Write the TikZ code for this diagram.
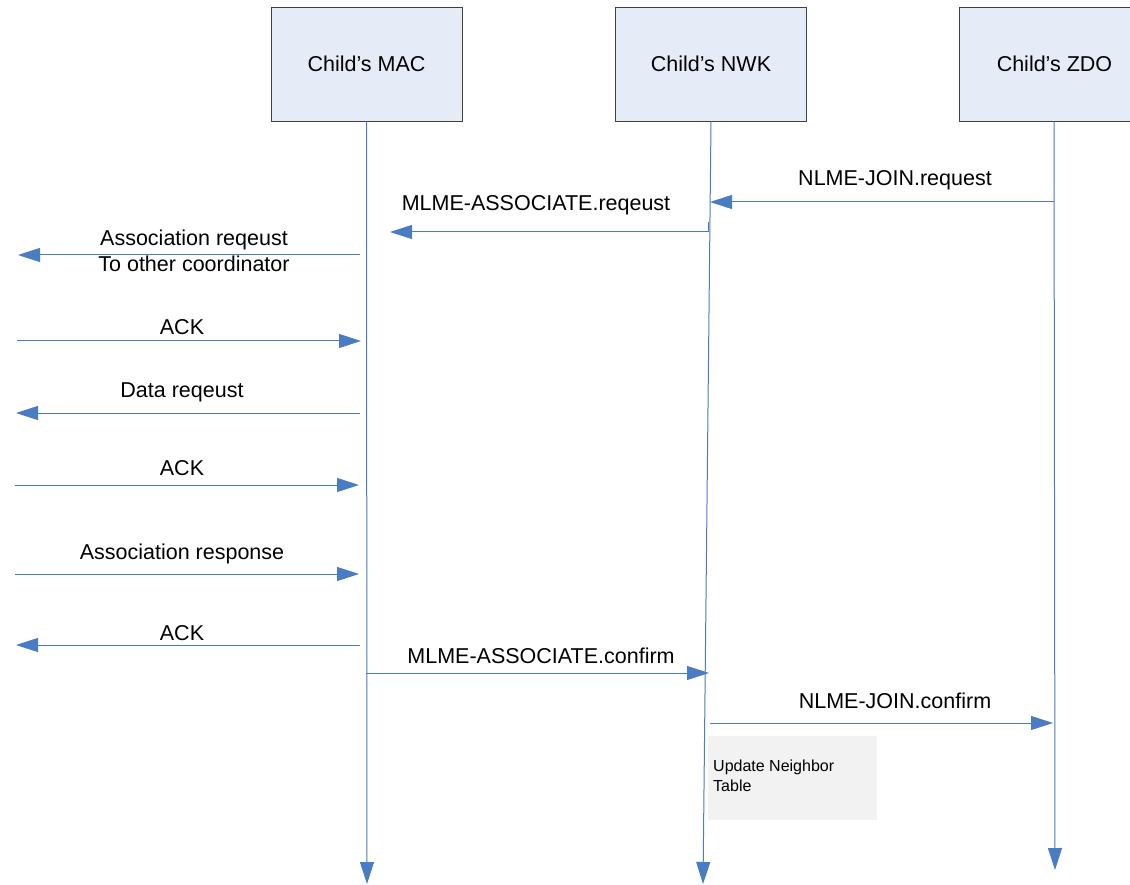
\documentclass[tikz,border=0pt]{standalone}
\usepackage{fontspec}
\setmainfont{Liberation Sans}
\usetikzlibrary{arrows.meta}
\definecolor{lineblue}{HTML}{4A7CC4}
\definecolor{boxfill}{HTML}{E6ECF7}
\definecolor{noteFill}{HTML}{F2F2F2}
\tikzset{
  lifebox/.style={draw=black!75, fill=boxfill, line width=0.8pt, minimum width=191pt, minimum height=114pt, inner sep=0pt, font=\fontsize{21.5}{25}\selectfont},
  msg/.style={draw=lineblue, line width=1pt, -{Triangle[length=22pt,width=14pt]}},
  life/.style={draw=lineblue, line width=1pt, -{Triangle[length=22pt,width=14pt]}},
  lbl/.style={font=\fontsize{21.5}{26}\selectfont, inner sep=0pt, align=center},
  notebox/.style={fill=noteFill, minimum width=169pt, minimum height=84pt, inner sep=0pt},
}
\begin{document}
\begin{tikzpicture}[x=1pt,y=-1pt]
\useasboundingbox (0,0) rectangle (1130,885);
\begin{scope}
\clip (0,0) rectangle (1130,885);
% header boxes
\node[lifebox] (mac) at (366.5,64) {Child’s MAC};
\node[lifebox] (nwk) at (711,64) {Child’s NWK};
\node[lifebox] (zdo) at (1054.5,64) {Child’s ZDO};
\end{scope}
% lifeline ends
\coordinate (macend) at (367,884);
\coordinate (nwkend) at (703,884);
\coordinate (zdoend) at (1055,870);
\draw[life] (mac.south) -- (macend);
\draw[life] (nwk.south) -- (nwkend);
\draw[life] (zdo.south -| 1054,0) -- (zdoend);
% message end points
\coordinate (a1s) at (1054,202); \coordinate (a1e) at (710,202);
\coordinate (a2s) at (708,232); \coordinate (a2e) at (390,232);
\coordinate (a3s) at (360,255); \coordinate (a3e) at (18,255);
\coordinate (a4s) at (17,341);  \coordinate (a4e) at (361,341);
\coordinate (a5s) at (360,413); \coordinate (a5e) at (16,413);
\coordinate (a6s) at (15,485);  \coordinate (a6e) at (359,485);
\coordinate (a7s) at (15,574);  \coordinate (a7e) at (359,574);
\coordinate (a8s) at (360,645); \coordinate (a8e) at (16,645);
\coordinate (a9s) at (366,673); \coordinate (a9e) at (709,673);
\coordinate (a10s) at (710,723); \coordinate (a10e) at (1053,723);
\draw[draw=lineblue, line width=1pt] (708,222) -- (a2s);
\draw[msg] (a1s) -- (a1e);
\draw[msg] (a2s) -- (a2e);
\draw[msg] (a3s) -- (a3e);
\draw[msg] (a4s) -- (a4e);
\draw[msg] (a5s) -- (a5e);
\draw[msg] (a6s) -- (a6e);
\draw[msg] (a7s) -- (a7e);
\draw[msg] (a8s) -- (a8e);
\draw[msg] (a9s) -- (a9e);
\draw[msg] (a10s) -- (a10e);
% labels
\node[lbl] (l1) at (895,180) {NLME-JOIN.request};
\node[lbl] (l2) at (536,205) {MLME-ASSOCIATE.reqeust};
\node[lbl] (l3) at (194,251) {Association reqeust\\To other coordinator};
\node[lbl] (l4) at (182,327) {ACK};
\node[lbl] (l5) at (182,392) {Data reqeust};
\node[lbl] (l6) at (182,468) {ACK};
\node[lbl] (l7) at (182,554) {Association response};
\node[lbl] (l8) at (182,633) {ACK};
\node[lbl] (l9) at (541,656) {MLME-ASSOCIATE.confirm};
\node[lbl] (l10) at (895,701) {NLME-JOIN.confirm};
% note
\node[notebox] (note) at (792.5,778) {};
\node[anchor=north west, align=left, inner sep=0pt, font=\fontsize{16}{19.5}\selectfont] (notetext) at (713,760) {Update Neighbor\\Table};
\end{tikzpicture}
\end{document}
